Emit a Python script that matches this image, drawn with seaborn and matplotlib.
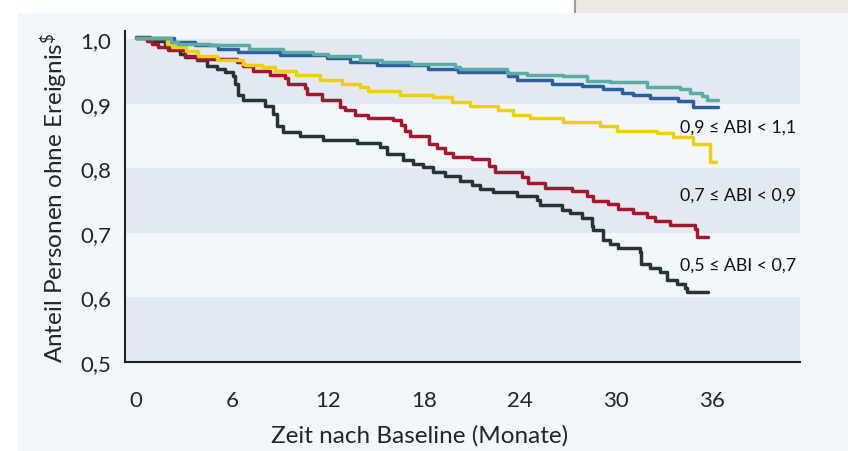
"""
Kaplan-Meier style step curves: share of persons without event by ABI group.
"""

# === Imports ===

import pandas as pd
import matplotlib
matplotlib.use("Agg")
from matplotlib import pyplot as plt
from matplotlib.patches import Rectangle
import seaborn as sns


# === Data ===

months_05_07 = [0, 0.88, 1.81, 2.75, 3.06, 3.81, 4.44, 5.06, 5.56, 6.06, 6.19, 6.38, 6.69,
                8.06, 8.56, 8.81, 9.19, 10.25, 11.69, 13.81, 15.25, 15.69, 16.69, 17.31,
                17.94, 18.56, 19.31, 20.25, 21.0, 21.5, 22.31, 23.81, 25.06, 25.25, 26.62,
                27.12, 27.88, 28.5, 28.56, 29.19, 29.62, 30.12, 31.5, 31.56, 32.12, 32.75,
                33.19, 33.81, 34.31, 34.44, 35.75]
surv_05_07 = [1.003, 0.997, 0.988, 0.977, 0.972, 0.967, 0.958, 0.954, 0.949, 0.943, 0.930,
              0.913, 0.906, 0.896, 0.884, 0.865, 0.856, 0.850, 0.844, 0.839, 0.833, 0.822,
              0.813, 0.807, 0.802, 0.794, 0.788, 0.780, 0.774, 0.768, 0.763, 0.757, 0.751,
              0.743, 0.735, 0.731, 0.723, 0.711, 0.704, 0.689, 0.683, 0.676, 0.670, 0.652,
              0.646, 0.639, 0.627, 0.621, 0.615, 0.608, 0.608]

months_07_09 = [0, 0.69, 1.0, 1.38, 2.0, 3.06, 3.81, 6.31, 6.69, 7.31, 8.38, 9.31, 9.5,
                10.56, 10.69, 11.62, 12.75, 13.06, 13.69, 14.5, 16.06, 16.56, 16.81, 17.12,
                18.31, 18.81, 19.31, 19.81, 21.0, 22.06, 22.44, 24.12, 24.5, 25.56, 27.25,
                28.19, 28.56, 29.5, 30.12, 31.06, 31.94, 32.44, 33.38, 34.94, 35.06, 35.75]
surv_07_09 = [1.002, 0.997, 0.992, 0.988, 0.983, 0.974, 0.969, 0.965, 0.958, 0.950, 0.945,
              0.939, 0.930, 0.924, 0.915, 0.906, 0.894, 0.890, 0.882, 0.878, 0.875, 0.867,
              0.858, 0.850, 0.838, 0.832, 0.824, 0.818, 0.814, 0.804, 0.794, 0.786, 0.777,
              0.769, 0.765, 0.757, 0.750, 0.745, 0.737, 0.731, 0.724, 0.719, 0.712, 0.706,
              0.693, 0.693]

months_09_11 = [0, 1.94, 2.25, 3.12, 3.88, 5.06, 5.12, 6.69, 6.81, 7.88, 8.69, 10.0, 11.5,
                12.88, 14.0, 14.5, 16.5, 18.56, 19.75, 20.88, 22.62, 23.56, 24.62, 26.69,
                29.0, 30.06, 32.56, 33.56, 34.81, 35.88, 36.25]
surv_09_11 = [1.002, 0.992, 0.987, 0.981, 0.974, 0.969, 0.967, 0.962, 0.959, 0.956, 0.951,
              0.944, 0.937, 0.931, 0.925, 0.920, 0.914, 0.910, 0.903, 0.896, 0.890, 0.882,
              0.878, 0.871, 0.865, 0.858, 0.854, 0.848, 0.837, 0.810, 0.810]

months_blue = [0, 2.38, 3.69, 5.12, 6.38, 9.0, 11.94, 13.38, 15.06, 18.25, 20.12, 23.25,
               23.81, 26.0, 27.88, 29.19, 30.38, 31.06, 32.12, 33.88, 34.81, 36.38]
surv_blue = [1.002, 0.995, 0.990, 0.985, 0.980, 0.975, 0.970, 0.964, 0.959, 0.954, 0.949,
             0.943, 0.937, 0.931, 0.927, 0.923, 0.917, 0.913, 0.908, 0.904, 0.894, 0.894]

months_teal = [0, 2.19, 2.62, 4.62, 7.06, 9.19, 11.06, 12.0, 14.0, 15.38, 17.19, 19.94,
               20.25, 23.19, 24.44, 26.69, 28.19, 29.62, 31.94, 34.0, 34.62, 35.38, 35.69,
               36.38]
surv_teal = [1.002, 0.996, 0.993, 0.990, 0.985, 0.980, 0.977, 0.973, 0.967, 0.964, 0.961,
             0.956, 0.954, 0.948, 0.944, 0.942, 0.935, 0.933, 0.926, 0.922, 0.917, 0.912,
             0.906, 0.906]

group_names = ["0,5 ≤ ABI < 0,7", "0,7 ≤ ABI < 0,9", "0,9 ≤ ABI < 1,1", "blau", "tuerkis"]
group_colors = ["#283334", "#a3182c", "#f0cf12", "#2d5f9e", "#5aaca4"]
labelled = ["0,9 ≤ ABI < 1,1", "0,7 ≤ ABI < 0,9", "0,5 ≤ ABI < 0,7"]
label_y = [0.865, 0.759, 0.650]

xticks = [0, 6, 12, 18, 24, 30, 36]
yticks = [0.5, 0.6, 0.7, 0.8, 0.9, 1.0]
yticklabels = ["0,5", "0,6", "0,7", "0,8", "0,9", "1,0"]

panel_color = "#f2f7fc"
band_color = "#e3e9f2"


# === Functions ===

def build_frame():
    parts = []
    series = [(months_05_07, surv_05_07), (months_07_09, surv_07_09),
              (months_09_11, surv_09_11), (months_blue, surv_blue),
              (months_teal, surv_teal)]
    for name, (m, s) in zip(group_names, series):
        parts.append(pd.DataFrame({"monat": m, "anteil": s, "gruppe": name}))
    return pd.concat(parts, ignore_index=True)


def plot(data):
    sns.set_style("white")
    plt.rcParams["font.family"] = ["Lato", "DejaVu Sans"]
    plt.rcParams["mathtext.fontset"] = "custom"
    plt.rcParams["mathtext.rm"] = "Lato"
    plt.rcParams["mathtext.it"] = "Lato"

    fig = plt.figure(figsize=(8.48, 4.52), dpi=100, facecolor="white")
    #== background panel and the grey box at the top right (behind the axes)
    fig.patches.append(Rectangle((575 / 848, 0.9), 1, 0.2, transform=fig.transFigure,
                                 facecolor="#ece9e4", edgecolor="none", zorder=-3))
    fig.add_artist(plt.Line2D([575 / 848, 575 / 848], [0.96, 1.0], transform=fig.transFigure,
                              color="#9a9a96", lw=1.5, zorder=-2))
    fig.patches.append(Rectangle((18 / 848, 0), 1, 438 / 452, transform=fig.transFigure,
                                 facecolor=panel_color, edgecolor="none", zorder=-1))

    ax = fig.add_axes([125 / 848, 89 / 452, 675 / 848, 331 / 452])
    ax.set_facecolor(panel_color)
    for lo in [0.5, 0.7, 0.9]:
        ax.axhspan(lo, lo + 0.1, color=band_color, lw=0, zorder=0)

    palette = dict(zip(group_names, group_colors))
    sns.lineplot(data=data, x="monat", y="anteil", hue="gruppe", palette=palette,
                 hue_order=group_names, estimator=None, sort=False,
                 drawstyle="steps-post", linewidth=2.5, legend=False, ax=ax)

    for txt, yv in zip(labelled, label_y):
        ax.text(34.0, yv, txt, ha="left", va="center", fontsize=12.8, color="#111111")

    ax.set_xlim(-0.69, 41.5)
    ax.set_ylim(0.5, 1.0124)
    ax.set_xticks(xticks)
    ax.set_xticklabels([str(t) for t in xticks], fontsize=16)
    ax.set_yticks(yticks)
    ax.set_yticklabels(yticklabels, fontsize=16)
    ax.tick_params(axis="x", direction="out", length=5.5, width=1, color="#555555", pad=14.5)
    ax.tick_params(axis="y", direction="out", length=4.5, width=1, color="#555555", pad=5.5)

    for side in ["top", "right"]:
        ax.spines[side].set_visible(False)
    for side in ["left", "bottom"]:
        ax.spines[side].set_color("#222222")
        ax.spines[side].set_linewidth(1.5)

    #== x label sits centred under the data range, not the whole axis
    ax.set_xlabel("Zeit nach Baseline (Monate)", fontsize=17.5, labelpad=10, x=0.436)
    ax.set_ylabel(r"Anteil Personen ohne Ereignis$^{\$}$", fontsize=17.5, labelpad=7)

    fig.savefig("out.png", dpi=100, facecolor="white")
    plt.close(fig)


# === Main ===

def main():
    data = build_frame()
    plot(data)


main()
